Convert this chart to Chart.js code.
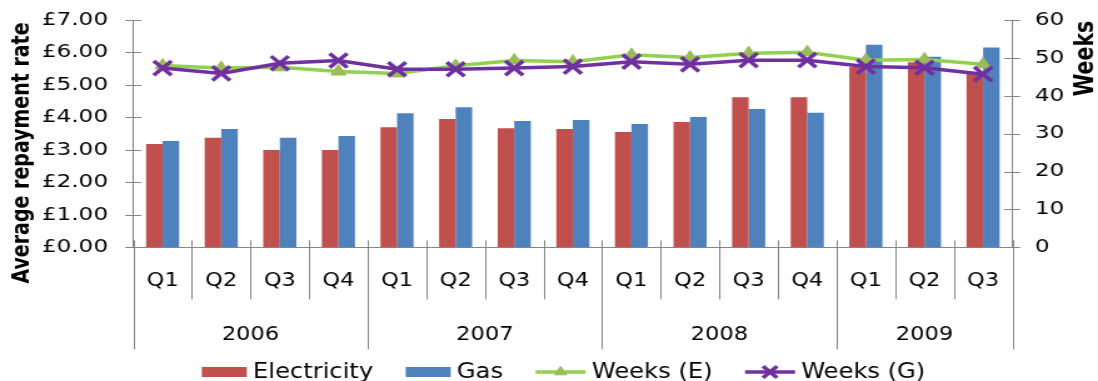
<!DOCTYPE html>
<html>
<head>
<meta charset="utf-8">
<script src="https://cdn.jsdelivr.net/npm/chart.js@4.4.1/dist/chart.umd.min.js"></script>
<style>
  html, body { margin: 0; padding: 0; background: #fff; overflow: hidden; }
  /* the chart is laid out narrow and widened as a whole */
  #wrap { width: 878px; height: 381px; transform: scaleX(1.2506); transform-origin: 0 0; }
</style>
</head>
<body>
<div id="wrap"><canvas id="repayment-chart"></canvas></div>
<script>
// Quarterly repayment data
const quarters = ['Q1', 'Q2', 'Q3', 'Q4', 'Q1', 'Q2', 'Q3', 'Q4', 'Q1', 'Q2', 'Q3', 'Q4', 'Q1', 'Q2', 'Q3'];
const years = ['2006', '2007', '2008', '2009'];
const quartersPerYear = [4, 4, 4, 3];

const electricity = [3.18, 3.37, 3.00, 3.00, 3.70, 3.95, 3.67, 3.64, 3.55, 3.86, 4.62, 4.62, 5.55, 5.70, 5.36];
const gas = [3.27, 3.64, 3.37, 3.43, 4.13, 4.31, 3.89, 3.92, 3.80, 4.01, 4.26, 4.14, 6.24, 5.87, 6.15];
const weeksE = [48.0, 47.3, 47.5, 46.4, 45.9, 47.9, 49.3, 49.0, 50.8, 50.1, 51.2, 51.5, 49.4, 49.6, 48.3];
const weeksG = [47.3, 45.9, 48.6, 49.3, 47.0, 47.0, 47.3, 47.7, 49.0, 48.3, 49.4, 49.4, 47.7, 47.4, 45.7];

const AXIS_GREY = '#868686';
const WIDE = "'DejaVu Sans', Verdana, sans-serif";
const NARROW = "'DejaVu Sans Condensed', 'Liberation Sans Narrow', 'DejaVu Sans', sans-serif";

// Axis titles, crossing tick marks, the two-row category axis and the legend
const framePlugin = {
    id: 'frame',
    afterDraw(chart) {
        const ctx = chart.ctx;
        const x = chart.scales.x;
        const yL = chart.scales.y;
        const yR = chart.scales.y1;
        const axisY = x.top;

        ctx.save();
        ctx.strokeStyle = AXIS_GREY;
        ctx.lineWidth = 1;

        // tick marks crossing both value axes
        ctx.beginPath();
        yL.ticks.forEach(t => {
            const py = Math.round(yL.getPixelForValue(t.value)) + 0.5;
            ctx.moveTo(yL.right - 6.4, py);
            ctx.lineTo(yL.right + 6.4, py);
        });
        yR.ticks.forEach(t => {
            const py = Math.round(yR.getPixelForValue(t.value)) + 0.5;
            ctx.moveTo(yR.left - 6.4, py);
            ctx.lineTo(yR.left + 6.4, py);
        });
        ctx.stroke();

        // category separators: short for quarters, long at year boundaries
        const half = (x.getPixelForValue(1) - x.getPixelForValue(0)) / 2;
        const yearEdges = [0];
        quartersPerYear.forEach(n => yearEdges.push(yearEdges[yearEdges.length - 1] + n));
        ctx.beginPath();
        for (let k = 0; k <= quarters.length; k++) {
            const px = k < quarters.length ? x.getPixelForValue(k) - half : x.getPixelForValue(k - 1) + half;
            const bottom = yearEdges.includes(k) ? 349.3 : 299.3;
            ctx.moveTo(Math.round(px) + 0.5, axisY - 7);
            ctx.lineTo(Math.round(px) + 0.5, bottom);
        }
        ctx.stroke();

        // year labels centred under their quarters
        ctx.fillStyle = '#000';
        ctx.font = `20px ${NARROW}`;
        ctx.textAlign = 'center';
        ctx.textBaseline = 'alphabetic';
        years.forEach((label, i) => {
            const first = yearEdges[i];
            const last = yearEdges[i + 1] - 1;
            const cx = (x.getPixelForValue(first) + x.getPixelForValue(last)) / 2;
            ctx.fillText(label, cx, 340);
        });

        // axis titles
        ctx.textBaseline = 'middle';
        ctx.font = `bold 19px ${WIDE}`;
        ctx.save();
        ctx.translate(18, 153);
        ctx.rotate(-Math.PI / 2);
        ctx.fillText('Average repayment rate', 0, 0);
        ctx.restore();
        ctx.font = `bold 20.5px ${WIDE}`;
        ctx.save();
        ctx.translate(869, 58.5);
        ctx.rotate(-Math.PI / 2);
        ctx.fillText('Weeks', 0, 0);
        ctx.restore();

        // legend
        ctx.font = `21.5px ${NARROW}`;
        ctx.textAlign = 'left';
        ctx.textBaseline = 'alphabetic';
        const cy = 372;
        let lx = 161.3;
        chart.data.datasets.forEach(ds => {
            let iconW;
            if (ds.type === 'line') {
                iconW = 40;
                ctx.strokeStyle = ds.borderColor;
                ctx.lineWidth = ds.borderWidth;
                ctx.beginPath();
                ctx.moveTo(lx, cy);
                ctx.lineTo(lx + iconW, cy);
                ctx.stroke();
                ctx.fillStyle = ds.pointBackgroundColor || ds.borderColor;
                ctx.strokeStyle = ds.pointBorderColor;
                ctx.lineWidth = ds.pointBorderWidth;
                Chart.helpers.drawPoint(ctx, {
                    pointStyle: ds.pointStyle,
                    radius: ds.pointRadius * 0.8,
                    rotation: 0,
                    borderWidth: ds.pointBorderWidth
                }, lx + iconW / 2, cy);
            } else {
                iconW = 36;
                ctx.fillStyle = ds.backgroundColor;
                ctx.fillRect(lx, cy - 5, iconW, 10);
            }
            ctx.fillStyle = '#000';
            const tx = lx + iconW + 5;
            ctx.fillText(ds.label, tx, 378);
            lx = tx + ctx.measureText(ds.label).width + 26;
        });

        ctx.restore();
    }
};

// value axes take a fixed width and no extra room for their end labels
function fixAxis(width) {
    return function(scale) {
        scale.width = width;
        scale.paddingTop = 0;
        scale.paddingBottom = 0;
    };
}

const ctx = document.getElementById('repayment-chart').getContext('2d');
const repaymentChart = new Chart(ctx, {
    type: 'bar',
    data: {
        labels: quarters,
        datasets: [{
            label: 'Electricity',
            data: electricity,
            backgroundColor: '#C0504D',
            yAxisID: 'y',
            order: 2,
            categoryPercentage: 0.565,
            barPercentage: 1
        }, {
            label: 'Gas',
            data: gas,
            backgroundColor: '#4F81BD',
            yAxisID: 'y',
            order: 2,
            categoryPercentage: 0.565,
            barPercentage: 1
        }, {
            type: 'line',
            label: 'Weeks (E)',
            data: weeksE,
            yAxisID: 'y1',
            order: 1,
            borderColor: '#92D050',
            borderWidth: 3.5,
            pointStyle: 'triangle',
            pointRadius: 7,
            pointBackgroundColor: '#9BBB59',
            pointBorderColor: '#9BBB59',
            pointBorderWidth: 1,
            tension: 0
        }, {
            type: 'line',
            label: 'Weeks (G)',
            data: weeksG,
            yAxisID: 'y1',
            order: 0,
            borderColor: '#7030A0',
            borderWidth: 3.5,
            pointStyle: 'crossRot',
            pointRadius: 10,
            pointBorderColor: '#7030A0',
            pointBorderWidth: 3.5,
            tension: 0
        }]
    },
    options: {
        responsive: true,
        maintainAspectRatio: false,
        animation: false,
        layout: { padding: { top: 20, left: 0, right: 0, bottom: 0 } },
        plugins: {
            legend: { display: false },
            tooltip: { enabled: false }
        },
        scales: {
            x: {
                grid: { display: false, drawTicks: false },
                border: { color: AXIS_GREY },
                ticks: {
                    color: '#000',
                    font: { family: NARROW, size: 20 },
                    padding: 21,
                    maxRotation: 0,
                    autoSkip: false
                },
                afterFit(scale) { scale.height = 133.7; }
            },
            y: {
                position: 'left',
                min: 0,
                max: 7,
                grid: { display: false, drawTicks: false },
                border: { color: AXIS_GREY },
                ticks: {
                    stepSize: 1,
                    color: '#000',
                    font: { family: WIDE, size: 18.5 },
                    padding: 20.2,
                    callback: v => '£' + v.toFixed(2)
                },
                afterFit: fixAxis(106.6)
            },
            y1: {
                position: 'right',
                min: 0,
                max: 60,
                grid: { display: false, drawTicks: false },
                border: { color: AXIS_GREY },
                ticks: {
                    stepSize: 10,
                    color: '#000',
                    font: { family: WIDE, size: 18.5 },
                    padding: 18.1
                },
                afterFit: fixAxis(68.5)
            }
        }
    },
    plugins: [framePlugin]
});
</script>
</body>
</html>
